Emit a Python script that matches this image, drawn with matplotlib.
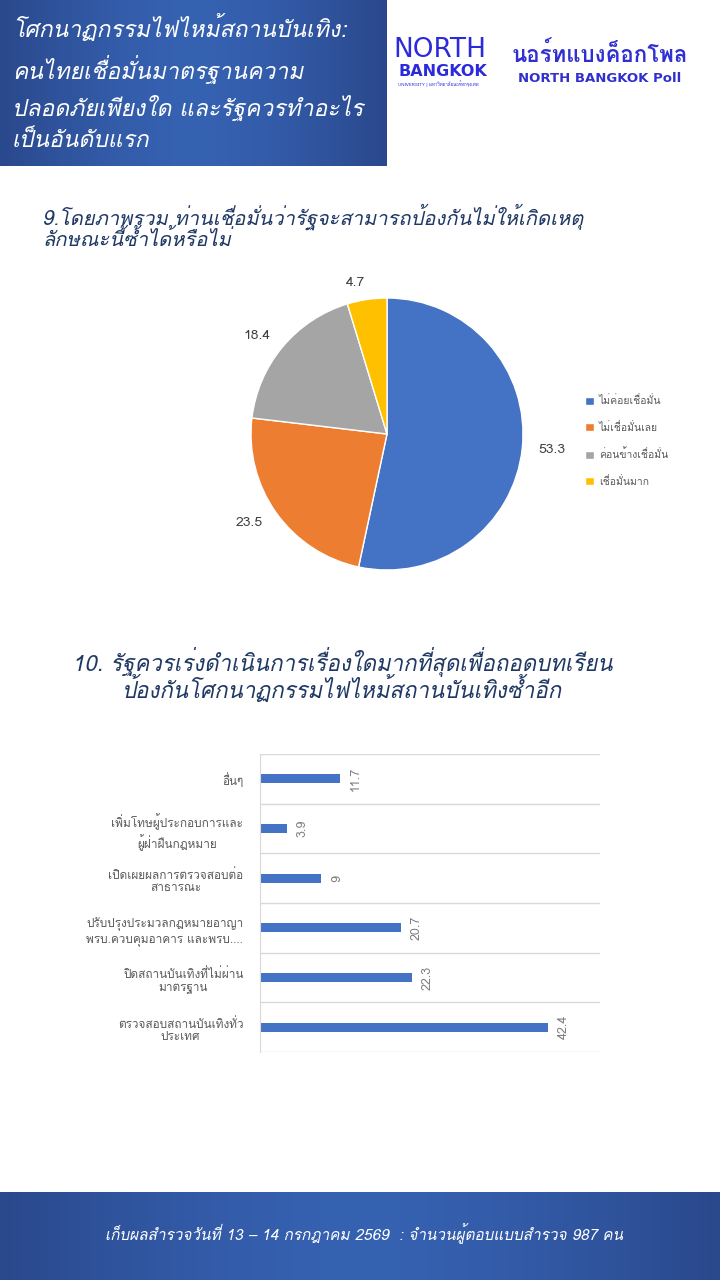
import numpy as np
import matplotlib
matplotlib.use("Agg")
import matplotlib.pyplot as plt
from matplotlib import font_manager
from matplotlib.ft2font import FT2Font

# หา font ที่มีอักษรไทย
thai_fams = []
for f in font_manager.fontManager.ttflist:
    try:
        ft = FT2Font(f.fname)
        if ft.get_char_index(ord("ก")) != 0 and f.name not in thai_fams:
            thai_fams.append(f.name)
    except Exception:
        pass
plt.rcParams["font.family"] = thai_fams + ["DejaVu Sans"]

# ข้อมูล
header = "โศกนาฏกรรมไฟไหม้สถานบันเทิง:\nคนไทยเชื่อมั่นมาตรฐานความ\nปลอดภัยเพียงใด และรัฐควรทำอะไร\nเป็นอันดับแรก"
q9_title = "9.โดยภาพรวม ท่านเชื่อมั่นว่ารัฐจะสามารถป้องกันไม่ให้เกิดเหตุ\nลักษณะนี้ซ้ำได้หรือไม่"
pie_labels = ["ไม่ค่อยเชื่อมั่น", "ไม่เชื่อมั่นเลย", "ค่อนข้างเชื่อมั่น", "เชื่อมั่นมาก"]
pie_values = [53.3, 23.5, 18.4, 4.7]
pie_colors = ["#4472C4", "#ED7D31", "#A5A5A5", "#FFC000"]

q10_title = "10. รัฐควรเร่งดำเนินการเรื่องใดมากที่สุดเพื่อถอดบทเรียน\nป้องกันโศกนาฏกรรมไฟไหม้สถานบันเทิงซ้ำอีก"
bar_labels = ["อื่นๆ",
              "เพิ่มโทษผู้ประกอบการและ\nผู้ฝ่าฝืนกฎหมาย",
              "เปิดเผยผลการตรวจสอบต่อ\nสาธารณะ",
              "ปรับปรุงประมวลกฎหมายอาญา\nพรบ.ควบคุมอาคาร และพรบ....",
              "ปิดสถานบันเทิงที่ไม่ผ่าน\nมาตรฐาน",
              "ตรวจสอบสถานบันเทิงทั่ว\nประเทศ"]
bar_values = [11.7, 3.9, 9, 20.7, 22.3, 42.4]
footer = "เก็บผลสำรวจวันที่ 13 – 14 กรกฎาคม 2569  : จำนวนผู้ตอบแบบสำรวจ 987 คน"

W, H = 720, 1280
fig = plt.figure(figsize=(7.2, 12.8), dpi=100)
fig.patch.set_facecolor("white")


def fax(x0, y0, x1, y1):
    # axes จากพิกัดพิกเซล (บนลงล่าง)
    return fig.add_axes([x0 / W, 1 - y1 / H, (x1 - x0) / W, (y1 - y0) / H])


def blue_box(ax):
    xx = np.linspace(-1, 1, 200)
    g = 1 - np.abs(xx) ** 1.5
    img = np.outer(np.ones(50), g)
    c0 = np.array([0x2a, 0x48, 0x8c]) / 255
    c1 = np.array([0x36, 0x62, 0xb2]) / 255
    rgb = c0[None, None, :] + (c1 - c0)[None, None, :] * img[:, :, None]
    ax.imshow(rgb, aspect="auto", extent=[0, 1, 0, 1])
    ax.set_xlim(0, 1)
    ax.set_ylim(0, 1)
    ax.axis("off")


# หัวเรื่อง
hax = fax(0, 0, 387, 166)
blue_box(hax)
hax.text(12 / 387, 0.5, header, color="white", fontsize=16.5, style="italic",
         va="center", ha="left", linespacing=1.55, transform=hax.transAxes)

# โลโก้
fig.text(393 / W, 1 - 50 / H, "NORTH", color="#2b2bdb", fontsize=19,
         family="DejaVu Sans", va="center")
fig.text(398 / W, 1 - 72 / H, "BANGKOK", color="#2b2bdb", fontsize=11.5,
         fontweight="bold", family="DejaVu Sans", va="center")
fig.text(398 / W, 1 - 84 / H, "UNIVERSITY | มหาวิทยาลัยนอร์ทกรุงเทพ",
         color="#2b2bdb", fontsize=3.2, va="center")
fig.text(600 / W, 1 - 54 / H, "นอร์ทแบงค็อกโพล", color="#3030d0", fontsize=16,
         fontweight="bold", ha="center", va="center")
fig.text(600 / W, 1 - 79 / H, "NORTH BANGKOK Poll", color="#3030d0", fontsize=9.5,
         fontweight="bold", ha="center", va="center", family="DejaVu Sans")

# ข้อ 9
fig.text(42 / W, 1 - 227 / H, q9_title, color="#1f3864", fontsize=14.5,
         style="italic", va="center", ha="left", linespacing=0.95)

pax = fax(251, 298, 523, 570)
wedges, texts = pax.pie(pie_values, colors=pie_colors, startangle=90,
                        counterclock=False,
                        labels=[str(v) for v in pie_values], labeldistance=1.12,
                        wedgeprops=dict(linewidth=1, edgecolor="white"),
                        textprops=dict(color="#404040", fontsize=10))
pax.set_xlim(-1, 1)
pax.set_ylim(-1, 1)
pax.set_aspect("equal")
fig.legend(wedges, pie_labels, loc="upper left",
           bbox_to_anchor=(576 / W, 1 - 386 / H), frameon=False,
           fontsize=7.5, labelcolor="#595959", handlelength=0.8,
           handleheight=0.8, handletextpad=0.5, labelspacing=1.5)

# ข้อ 10
fig.text(342 / W, 1 - 675 / H, q10_title, color="#1f3864", fontsize=16,
         style="italic", va="center", ha="center", linespacing=0.9)

bax = fax(260, 754, 600, 1052)
ypos = np.arange(len(bar_values))
bars = bax.barh(ypos, bar_values, height=0.18, color="#4472C4")
bax.bar_label(bars, labels=[f"{v:g}" for v in bar_values], padding=7,
              rotation=90, color="#7f7f7f", fontsize=9)
bax.set_xlim(0, 50)
bax.set_ylim(len(bar_values) - 0.5, -0.5)
bax.set_yticks(ypos)
bax.set_yticklabels(bar_labels, fontsize=8.5, color="#595959",
                    multialignment="center", linespacing=1.3)
bax.set_yticks(np.arange(-0.5, len(bar_values), 1), minor=True)
bax.tick_params(axis="y", which="both", length=0, pad=12)
bax.set_xticks([])
bax.grid(which="minor", axis="y", color="#d9d9d9", linewidth=1)
bax.set_axisbelow(True)
for s in ["top", "right", "bottom"]:
    bax.spines[s].set_visible(False)
bax.spines["left"].set_color("#d9d9d9")

# ส่วนท้าย
fax_ = fax(0, 1192, 720, 1280)
blue_box(fax_)
fax_.text(0.505, 0.53, footer, color="white", fontsize=11, style="italic",
          ha="center", va="center", transform=fax_.transAxes)

fig.savefig("out.png", dpi=100)
